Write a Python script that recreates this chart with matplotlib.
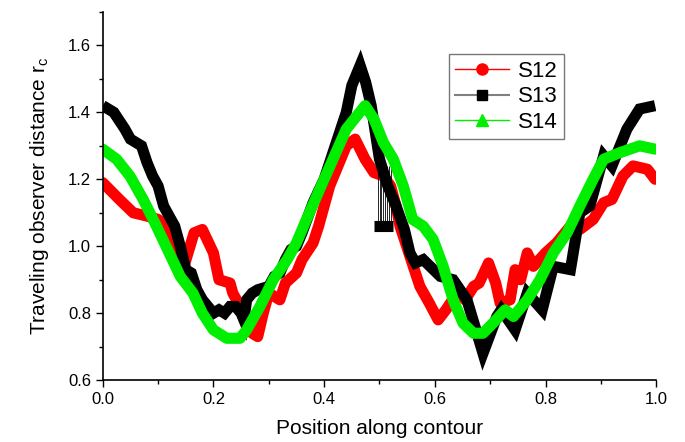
import numpy as np
import matplotlib.pyplot as plt
from matplotlib.lines import Line2D
from matplotlib.ticker import MultipleLocator

plt.rcParams['font.family'] = ['Liberation Sans', 'DejaVu Sans']

# S12 (red)
x12 = [0.0, 0.03, 0.055, 0.08, 0.10, 0.12, 0.14, 0.145, 0.165, 0.18, 0.20, 0.21, 0.23,
       0.235, 0.248, 0.26, 0.27, 0.28, 0.29, 0.30, 0.32, 0.33, 0.35, 0.36, 0.38, 0.39,
       0.41, 0.44, 0.456, 0.474, 0.49, 0.507, 0.52, 0.53, 0.537, 0.555, 0.573, 0.59,
       0.606, 0.62, 0.64, 0.655, 0.67, 0.68, 0.697, 0.71, 0.718, 0.736, 0.745, 0.755,
       0.767, 0.778, 0.80, 0.82, 0.845, 0.862, 0.886, 0.905, 0.92, 0.94, 0.958, 0.984, 0.998]
y12 = [1.19, 1.14, 1.10, 1.09, 1.08, 1.05, 0.98, 0.93, 1.04, 1.05, 0.98, 0.90, 0.89,
       0.86, 0.82, 0.78, 0.74, 0.73, 0.80, 0.86, 0.84, 0.89, 0.92, 0.96, 1.01, 1.06,
       1.18, 1.30, 1.32, 1.26, 1.22, 1.21, 1.18, 1.12, 1.06, 0.97, 0.88, 0.83,
       0.78, 0.81, 0.86, 0.84, 0.88, 0.89, 0.95, 0.89, 0.83, 0.84, 0.93, 0.90,
       0.98, 0.94, 0.98, 1.01, 1.06, 1.05, 1.08, 1.13, 1.14, 1.21, 1.24, 1.23, 1.20]

# S13 (black)
x13 = [0.0, 0.02, 0.04, 0.05, 0.07, 0.08, 0.09, 0.10, 0.11, 0.13, 0.14, 0.15, 0.16,
       0.17, 0.18, 0.19, 0.20, 0.21, 0.22, 0.23, 0.24, 0.25, 0.255, 0.26, 0.27, 0.28,
       0.30, 0.31, 0.32, 0.33, 0.34, 0.35, 0.36, 0.38, 0.40, 0.42, 0.44, 0.45, 0.465,
       0.475, 0.485, 0.50, 0.515, 0.53, 0.545, 0.555, 0.565, 0.579, 0.61, 0.633,
       0.658, 0.687, 0.712, 0.72, 0.745, 0.767, 0.794, 0.814, 0.845, 0.862, 0.88,
       0.905, 0.92, 0.947, 0.97, 0.998]
y13 = [1.42, 1.40, 1.35, 1.32, 1.30, 1.25, 1.21, 1.18, 1.12, 1.06, 1.00, 0.93, 0.92,
       0.87, 0.84, 0.82, 0.80, 0.81, 0.80, 0.82, 0.82, 0.80, 0.78, 0.84, 0.86, 0.87,
       0.88, 0.91, 0.92, 0.96, 0.99, 1.00, 1.04, 1.13, 1.20, 1.30, 1.40, 1.48, 1.54,
       1.49, 1.42, 1.26, 1.18, 1.12, 1.05, 0.98, 0.95, 0.96, 0.91, 0.90,
       0.84, 0.68, 0.79, 0.81, 0.75, 0.86, 0.81, 0.94, 0.93, 1.10, 1.12,
       1.27, 1.24, 1.35, 1.41, 1.42]
# short flat piece of S13 joined by thin strokes
x13b = [0.49, 0.525]
y13b = [1.06, 1.06]

# S14 (green)
x14 = [0.0, 0.025, 0.049, 0.073, 0.097, 0.12, 0.14, 0.163, 0.18, 0.20, 0.224, 0.248,
       0.26, 0.284, 0.308, 0.333, 0.35, 0.368, 0.392, 0.416, 0.44, 0.474, 0.49, 0.507,
       0.525, 0.543, 0.56, 0.579, 0.597, 0.615, 0.633, 0.651, 0.67, 0.687, 0.705,
       0.727, 0.742, 0.767, 0.79, 0.814, 0.839, 0.862, 0.886, 0.905, 0.935, 0.97, 0.998]
y14 = [1.29, 1.26, 1.21, 1.14, 1.06, 0.98, 0.91, 0.86, 0.80, 0.75, 0.725, 0.725,
       0.75, 0.82, 0.90, 0.96, 1.01, 1.08, 1.17, 1.26, 1.35, 1.42, 1.38, 1.31,
       1.26, 1.18, 1.08, 1.06, 1.02, 0.94, 0.84, 0.77, 0.74, 0.74, 0.77,
       0.81, 0.79, 0.84, 0.90, 0.98, 1.04, 1.12, 1.20, 1.26, 1.28, 1.30, 1.29]

fig = plt.figure(figsize=(6.85, 4.42), dpi=100)
ax = fig.add_axes([0.150, 0.140, 0.808, 0.833])

ax.plot(x12, y12, color='#ff0000', lw=8, solid_joinstyle='round', solid_capstyle='round')
ax.vlines(np.linspace(0.497, 0.52, 8), 1.06, 1.24, color='black', lw=0.6)
ax.plot(x13, y13, color='black', lw=8, solid_joinstyle='miter', solid_capstyle='butt')
ax.plot(x13b, y13b, color='black', lw=8, solid_capstyle='butt')
ax.plot(x14, y14, color='#00ee00', lw=8, solid_joinstyle='round', solid_capstyle='round')

ax.set_xlim(0, 1.0)
ax.set_ylim(0.6, 1.7)
ax.xaxis.set_minor_locator(MultipleLocator(0.1))
ax.yaxis.set_minor_locator(MultipleLocator(0.1))
ax.set_xticks([0.0, 0.2, 0.4, 0.6, 0.8, 1.0])
ax.set_xticklabels(['0.0', '0.2', '0.4', '0.6', '0.8', '1.0'])
ax.set_yticks([0.6, 0.8, 1.0, 1.2, 1.4, 1.6])
ax.set_yticklabels(['0.6', '0.8', '1.0', '1.2', '1.4', '1.6'])
ax.tick_params(which='major', direction='out', length=5, width=1, labelsize=12, colors='black')
ax.tick_params(which='minor', direction='out', length=3, width=1)
ax.spines['top'].set_visible(False)
ax.spines['right'].set_visible(False)
ax.spines['left'].set_linewidth(1.2)
ax.spines['bottom'].set_linewidth(1.2)

ax.set_xlabel('Position along contour', fontsize=15, labelpad=9)
ax.set_ylabel('Traveling observer distance r$_\\mathregular{c}$', fontsize=15, labelpad=12)

handles = [
    Line2D([], [], color='#ff0000', lw=1, marker='o', markersize=8),
    Line2D([], [], color='#808080', lw=1.5, marker='s', markersize=7,
           markerfacecolor='black', markeredgecolor='black'),
    Line2D([], [], color='#00ee00', lw=1, marker='^', markersize=9),
]
leg = ax.legend(handles, ['S12', 'S13', 'S14'], loc='upper left',
                bbox_to_anchor=(0.625, 0.885), fontsize=16, frameon=True,
                fancybox=False, handlelength=2.4, handletextpad=0.4,
                labelspacing=0.2, borderpad=0.3, borderaxespad=0)
leg.get_frame().set_edgecolor('#555555')
leg.get_frame().set_linewidth(1)

fig.savefig('out.png', dpi=100)
